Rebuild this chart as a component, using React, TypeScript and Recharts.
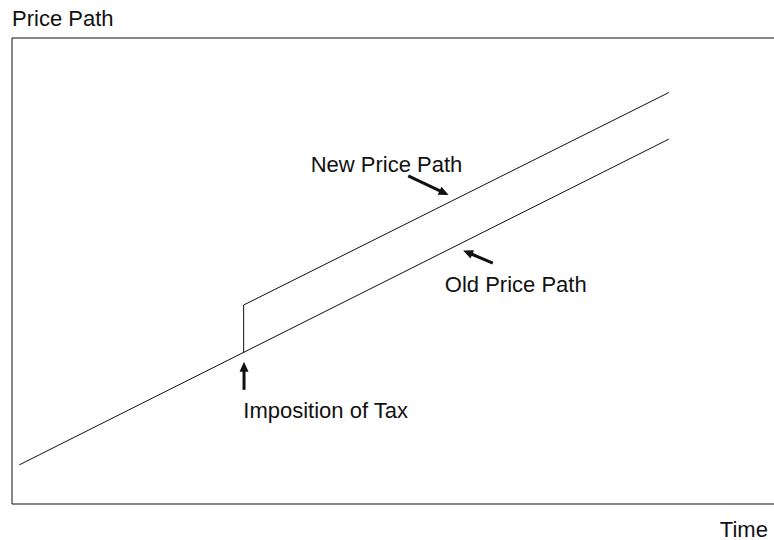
import React from 'react';
import { LineChart, Line, XAxis, YAxis, ReferenceLine, ReferenceDot } from 'recharts';

// Old price path (time, price)
const oldPath = [
  { t: 0.96, p: 8.4 },
  { t: 86.2, p: 78.3 },
];

// New price path: jumps at the imposition of the tax, then runs parallel
const newPath = [
  { t: 30.4, p: 32.5 },
  { t: 30.4, p: 42.7 },
  { t: 86.2, p: 88.3 },
];

// Text annotations: [label, time, price, anchor]
const labels = [
  { text: 'Price Path', t: 0, p: 102.6, anchor: 'start' },
  { text: 'Time', t: 99.2, p: -7.0, anchor: 'end' },
  { text: 'New Price Path', t: 39.2, p: 71.3, anchor: 'start' },
  { text: 'Old Price Path', t: 56.8, p: 45.6, anchor: 'start' },
  { text: 'Imposition of Tax', t: 30.35, p: 18.4, anchor: 'start' },
];

// Arrows: from (tail) -> to (tip)
const arrows = [
  { from: { t: 52.0, p: 70.4 }, to: { t: 57.3, p: 66.3 } },
  { from: { t: 63.1, p: 51.7 }, to: { t: 59.2, p: 54.4 } },
  { from: { t: 30.45, p: 24.5 }, to: { t: 30.45, p: 30.5 } },
];

const INK = '#111';

const ArrowShape = (props: any) => {
  const { x1, y1, x2, y2 } = props;
  if ([x1, y1, x2, y2].some((v) => v == null || isNaN(v))) return null;
  const dx = x2 - x1;
  const dy = y2 - y1;
  const len = Math.sqrt(dx * dx + dy * dy) || 1;
  const ux = dx / len;
  const uy = dy / len;
  const headLen = 10;
  const headHalf = 4.5;
  const bx = x2 - ux * headLen;
  const by = y2 - uy * headLen;
  const px = -uy;
  const py = ux;
  return (
    <g>
      <line x1={x1} y1={y1} x2={bx + ux} y2={by + uy} stroke={INK} strokeWidth={3} />
      <polygon
        points={`${x2},${y2} ${bx + px * headHalf},${by + py * headHalf} ${bx - px * headHalf},${by - py * headHalf}`}
        fill={INK}
      />
    </g>
  );
};

const makeTextShape = (text: string, anchor: string) => (props: any) => (
  <text
    x={props.cx}
    y={props.cy}
    textAnchor={anchor as any}
    fontFamily="'Liberation Sans', Arial, sans-serif"
    fontSize={22}
    fill={INK}
  >
    {text}
  </text>
);

export default function App() {
  return (
    <div style={{ position: 'absolute', left: 0, top: 0, width: 774, height: 540, background: '#fff' }}>
      <LineChart width={774} height={540} margin={{ top: 38, right: 0, left: 12, bottom: 36 }}>
        <XAxis type="number" dataKey="t" domain={[0, 100]} hide allowDataOverflow />
        <YAxis type="number" dataKey="p" domain={[0, 100]} hide allowDataOverflow />
        <ReferenceLine x={0} stroke={INK} strokeWidth={1} ifOverflow="visible" />
        <ReferenceLine y={0} stroke={INK} strokeWidth={1} ifOverflow="visible" />
        <ReferenceLine y={100} stroke={INK} strokeWidth={1} ifOverflow="visible" />
        <Line
          data={oldPath}
          dataKey="p"
          type="linear"
          stroke={INK}
          strokeWidth={1}
          dot={false}
          activeDot={false}
          isAnimationActive={false}
        />
        <Line
          data={newPath}
          dataKey="p"
          type="linear"
          stroke={INK}
          strokeWidth={1}
          dot={false}
          activeDot={false}
          isAnimationActive={false}
        />
        {arrows.map((a, i) => (
          <ReferenceLine
            key={`a${i}`}
            segment={[{ x: a.from.t, y: a.from.p }, { x: a.to.t, y: a.to.p }]}
            ifOverflow="visible"
            shape={ArrowShape}
          />
        ))}
        {labels.map((l, i) => (
          <ReferenceDot
            key={`l${i}`}
            x={l.t}
            y={l.p}
            r={1}
            ifOverflow="visible"
            shape={makeTextShape(l.text, l.anchor)}
          />
        ))}
      </LineChart>
    </div>
  );
}
